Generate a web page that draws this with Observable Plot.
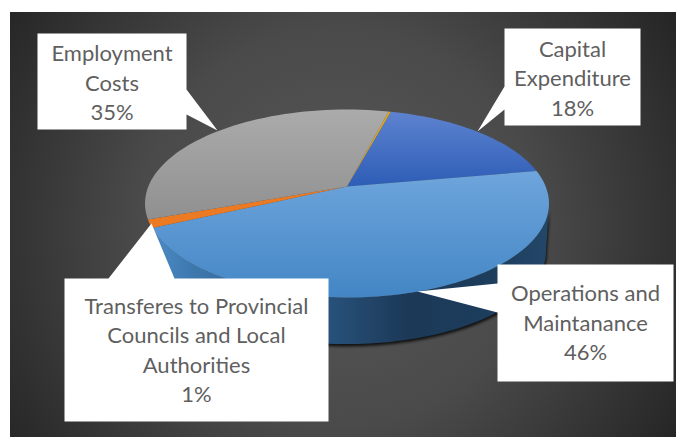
<!DOCTYPE html>
<html><head><meta charset="utf-8">
<script src="https://cdn.jsdelivr.net/npm/d3@7"></script>
<script src="https://cdn.jsdelivr.net/npm/@observablehq/plot@0.6"></script>
<style>html,body{margin:0;padding:0;background:#fff}svg{display:block}</style>
</head><body><div id="chart"></div>
<script>
// Data
const categories = ["Capital Expenditure","Operations and Maintanance","Transferes to Provincial Councils and Local Authorities","Employment Costs","Other"];
const shares = [18.0, 45.9, 1.4, 34.5, 0.2];
const labelLines = [["Capital","Expenditure"],["Operations and","Maintanance"],["Transferes to Provincial","Councils and Local","Authorities"],["Employment","Costs"]];
const firstAngle = 15;
const topFills = ["url(#gCap)","url(#gOps)","#ec7a23","url(#gEmp)","#e2a91e"];

// Layout (pixels of the picture)
const W = 676, H = 437, cx = 346.5, cy = 203, rx = 202, ry = 94, depth = 48;
const apexOffset = -0.18;              // perspective: the slices meet above the ellipse centre
const bottomShrink = 0.985;
const toX = px => (px - cx) / rx, toY = py => (py - cy) / ry;
const callouts = [
  {l:504,r:640,t:28,b:125,leader:[[504,109],[477,131],[504,86]],side:"left",dy:2},
  {l:497,r:673,t:264,b:381,leader:[[497,312],[417,291],[497,283]],side:"left",dy:0.5},
  {l:64,r:328,t:278,b:421,leader:[[108,278],[151,223],[174,278]],side:"top",dy:1},
  {l:37,r:186,t:33,b:129,leader:[[186,89],[217,130],[186,114]],side:"right",dy:2}
];
const lineH = 29.5;

// Perspective: a true share angle maps to a rim angle by the disc map that moves the centre to the apex
const a = (1 - Math.sqrt(1 - apexOffset*apexOffset)) / Math.abs(apexOffset);
const rimAngle = th => { const h = th/360; const n = Math.floor(h + 0.5);
  const p = 2*Math.atan(Math.tan((th - n*360)*Math.PI/360)*(1-a)/(1+a))*180/Math.PI; return p + n*360; };

let run = firstAngle;
const total = d3.sum(shares);
const slices = shares.map((v,i)=>{const a0=run; run+=v/total*360; return {i,name:categories[i],a0:rimAngle(a0),a1:rimAngle(run)};});
const arc = (a0,a1,dy=0,k=1)=>{const n=Math.max(2,Math.ceil(Math.abs(a1-a0)/2)),o=[];
  for(let j=0;j<=n;j++){const t=(a0+(a1-a0)*j/n)*Math.PI/180;o.push({x:k*Math.sin(t),y:-k*Math.cos(t)+dy});}return o;};
const apex = {x:0,y:apexOffset};
const wedge = s => [apex,...arc(s.a0,s.a1),apex];
const dUnit = depth/ry;
const ops = slices[1];
const side = [...arc(90, ops.a1), ...arc(90, ops.a1, dUnit, bottomShrink).reverse()];

const poly = (pts,opts)=>Plot.line(pts,{x:"x",y:"y",curve:"linear",stroke:"none",...opts});
const P = ([px,py])=>({x:toX(px),y:toY(py)});

const defs = () => {
  const s = d3.create("svg:defs");
  const lin=(id,stops)=>{const g=s.append("linearGradient").attr("id",id).attr("gradientUnits","userSpaceOnUse").attr("x1",0).attr("x2",0).attr("y1",cy-ry).attr("y2",cy+ry);
    stops.forEach(([o,c])=>g.append("stop").attr("offset",o).attr("stop-color",c));};
  lin("gEmp",[[0,"#ababab"],[0.6,"#8f8f8f"]]);
  lin("gCap",[[0,"#5f84d0"],[0.42,"#2c5cb6"]]);
  lin("gOps",[[0.33,"#6ea5dc"],[1,"#4386c5"]]);
  const h=s.append("linearGradient").attr("id","gSide").attr("gradientUnits","userSpaceOnUse").attr("x1",cx-rx).attr("x2",cx+rx).attr("y1",0).attr("y2",0);
  [[0,"#4e8fcb"],[0.12,"#3d78ad"],[0.45,"#28527c"],[0.65,"#1c3957"],[0.85,"#1d3d5d"],[1,"#234768"]].forEach(([o,c])=>h.append("stop").attr("offset",o).attr("stop-color",c));
  const r=s.append("radialGradient").attr("id","gBg").attr("gradientUnits","userSpaceOnUse").attr("cx",W/2).attr("cy",H/2+10).attr("r",400);
  [[0,"#585858"],[0.5,"#4a4a4a"],[1,"#252525"]].forEach(([o,c])=>r.append("stop").attr("offset",o).attr("stop-color",c));
  const f=s.append("filter").attr("id","blur").attr("x","-10%").attr("y","-10%").attr("width","120%").attr("height","120%");
  f.append("feGaussianBlur").attr("stdDeviation",1.6);
  return s.node();
};
const filt = id => (i,sc,v,d,c,next)=>{const g=next(i,sc,v,d,c);g.setAttribute("filter",`url(#${id})`);return g;};

const marks = [
  defs,
  Plot.rect([0],{x1:()=>toX(10),x2:()=>toX(W),y1:()=>toY(12),y2:()=>toY(H),fill:"url(#gBg)"}),
  poly(side.map(p=>({x:p.x*1.004,y:p.y+0.025})),{fill:"#000",fillOpacity:0.8,render:filt("blur")}),
  poly(side,{fill:"url(#gSide)"}),
  ...slices.map(s=>poly(wedge(s),{fill:topFills[s.i]})),
  ...callouts.map(({l,r,t,b,leader,side:sd})=>{
     const [c1,tip,c2] = leader;
     const path = sd==="top"
       ? [[l,t],c1,tip,c2,[r,t],[r,b],[l,b]]
       : sd==="right"
       ? [[l,t],[r,t],c1,tip,c2,[r,b],[l,b]]
       : [[l,t],[r,t],[r,b],[l,b],c1,tip,c2];
     return poly(path.map(P),{fill:"#fff"});
  }),
  ...callouts.flatMap(({l,r,t,b,dy},i)=>{
     const lines=[...labelLines[i], Math.round(shares[i])+"%"];
     const n=lines.length, mid=(l+r)/2, y0=(t+b)/2+dy-(n-1)*lineH/2;
     return lines.map((line,k)=>Plot.text([line],{x:()=>toX(mid),y:()=>toY(y0+k*lineH),text:d=>d,fontSize:22,fontFamily:"Lato, Carlito, sans-serif",fill:"#5f5f5f",textAnchor:"middle",lineAnchor:"middle"}));
  })
];

const chart = Plot.plot({
  width:W,height:H,margin:0,
  style:{background:"#fff",overflow:"hidden"},
  x:{domain:[toX(0),toX(W)],range:[0,W],axis:null},
  y:{domain:[toY(0),toY(H)],range:[0,H],axis:null},
  marks
});
document.getElementById("chart").append(chart);
</script></body></html>
